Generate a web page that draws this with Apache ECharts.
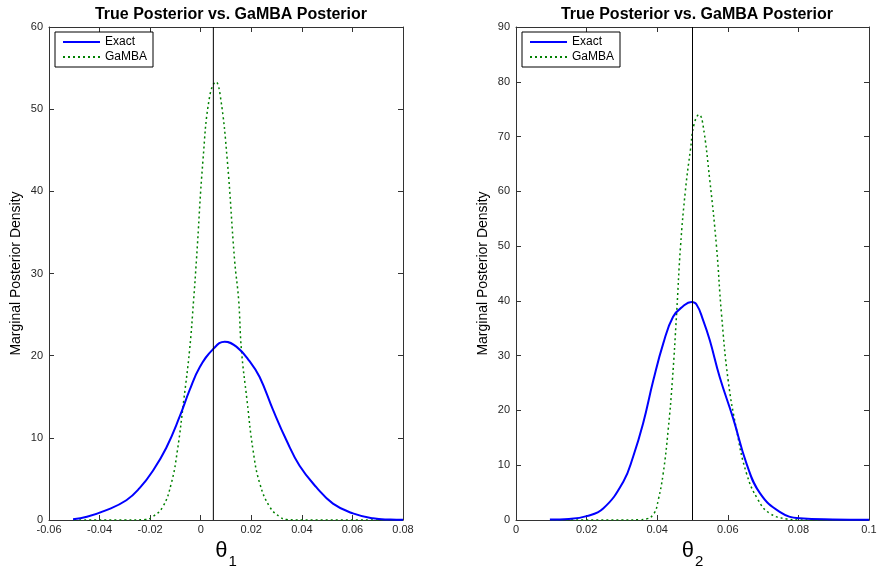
<!DOCTYPE html>
<html><head><meta charset="utf-8">
<script src="https://cdn.jsdelivr.net/npm/echarts@6/dist/echarts.min.js"></script>
<style>html,body{margin:0;padding:0;background:#fff}#c{width:877px;height:569px}</style>
</head><body><div id="c"></div><script>
// ---- data ----
const chartTitle = 'True Posterior vs. GaMBA Posterior';
const yLabel = 'Marginal Posterior Density';
const seriesNames = ['Exact', 'GaMBA'];
const trueTheta1 = 0.005;
const trueTheta2 = 0.05;

const theta1Exact = [[-0.0505,0.1],[-0.045,0.4],[-0.0373,1.2],[-0.0294,2.4],[-0.0241,3.9],[-0.0189,6.0],[-0.0136,8.8],[-0.0083,12.6],[-0.0044,15.8],[-0.0004,18.6],[0.0049,20.8],[0.0095,21.7],[0.0141,21.1],[0.0194,19.3],[0.0233,17.4],[0.0286,13.4],[0.0339,9.7],[0.0391,6.6],[0.0457,4.0],[0.0523,2.0],[0.0602,0.8],[0.0681,0.2],[0.075,0.05],[0.08,0.02]];
const theta1Gamba = [[-0.05,0],[-0.03,0],[-0.022,0.05],[-0.019,0.4],[-0.015,1.6],[-0.0116,4.5],[-0.0092,8.5],[-0.0067,14.6],[-0.0044,20.7],[-0.0028,26.8],[-0.0017,31.6],[0.0009,43.8],[0.0035,51.5],[0.006,53.3],[0.0078,51.5],[0.0105,43.8],[0.0134,31.6],[0.015,26.8],[0.0161,20.7],[0.0183,14.6],[0.0207,8.5],[0.0233,4.5],[0.0273,1.6],[0.0312,0.4],[0.034,0.05],[0.04,0],[0.08,0]];
const theta2Exact = [[0.0096,0.1],[0.015,0.2],[0.020,0.7],[0.0247,2.1],[0.0304,7.0],[0.0332,11.6],[0.036,17.6],[0.0389,25.5],[0.0417,32.2],[0.0445,37.1],[0.0474,39.05],[0.0497,39.8],[0.0511,39.4],[0.053,36.5],[0.0549,32.8],[0.0577,26.1],[0.0615,18.6],[0.0653,10.3],[0.0691,4.9],[0.0747,1.5],[0.0804,0.3],[0.0898,0.1],[0.1,0.05]];
const theta2Gamba = [[0.01,0],[0.03,0],[0.035,0.05],[0.037,0.2],[0.0391,1.2],[0.0403,3.65],[0.0417,8.5],[0.0431,16.4],[0.0443,25.5],[0.0455,37.7],[0.0466,49.9],[0.048,60.2],[0.0494,67.5],[0.0505,72.4],[0.0519,74.0],[0.0529,72.4],[0.0549,62.0],[0.0568,49.9],[0.0582,37.7],[0.0601,25.5],[0.0625,16.4],[0.0653,8.5],[0.0686,3.65],[0.0719,1.2],[0.0766,0.2],[0.08,0.02],[0.085,0],[0.1,0]];

const x1Range = [-0.06, 0.08], x2Range = [0, 0.1], xStep = 0.02;
const y1Range = [0, 60], y2Range = [0, 90], yStep = 10;

// ---- styling ----
const frameColor = '#333';
const textColor = '#262626';
const fontFam = 'Liberation Sans, Arial, sans-serif';
const fmt = v => String(parseFloat(v.toFixed(4)));

function xAxes(grid, range, sub) {
  const base = {
    gridIndex: grid, type: 'value', min: range[0], max: range[1], interval: xStep,
    axisLine: { show: true, onZero: false, lineStyle: { color: frameColor, width: 1 } },
    axisTick: { show: true, inside: true, length: 5, lineStyle: { color: frameColor } },
    splitLine: { show: false }
  };
  return [
    Object.assign({}, base, {
      position: 'bottom',
      axisLabel: { formatter: fmt, fontSize: 11, color: textColor, margin: 4, fontFamily: fontFam },
      name: '{t|θ}{s|' + sub + '}', nameLocation: 'middle', nameGap: 17,
      nameTextStyle: {
        fontFamily: fontFam, color: '#000',
        rich: {
          t: { fontSize: 22, lineHeight: 22, padding: [0, 0, 8, 0], color: '#000', fontFamily: fontFam },
          s: { fontSize: 15, lineHeight: 16, padding: [14, 0, 0, 1], color: '#000', fontFamily: fontFam }
        }
      }
    }),
    Object.assign({}, base, { position: 'top', axisLabel: { show: false } })
  ];
}
function yAxes(grid, range) {
  const base = {
    gridIndex: grid, type: 'value', min: range[0], max: range[1], interval: yStep,
    axisLine: { show: true, onZero: false, lineStyle: { color: frameColor, width: 1 } },
    axisTick: { show: true, inside: true, length: 5, lineStyle: { color: frameColor } },
    splitLine: { show: false }
  };
  return [
    Object.assign({}, base, {
      position: 'left',
      axisLabel: { fontSize: 11, color: textColor, margin: 6, fontFamily: fontFam },
      name: yLabel, nameLocation: 'middle', nameGap: 26,
      nameTextStyle: { fontSize: 14, color: '#000', fontFamily: fontFam }
    }),
    Object.assign({}, base, { position: 'right', axisLabel: { show: false } })
  ];
}
function exactSeries(xi, yi, data) {
  return {
    name: seriesNames[0], type: 'line', xAxisIndex: xi, yAxisIndex: yi, data: data,
    symbol: 'none', smooth: 0.45, z: 3,
    lineStyle: { color: '#0000ff', width: 2 }, itemStyle: { color: '#0000ff' },
    emphasis: { disabled: true }
  };
}
function gambaSeries(xi, yi, data) {
  return {
    name: seriesNames[1], type: 'line', xAxisIndex: xi, yAxisIndex: yi, data: data,
    symbol: 'none', smooth: 0.45, z: 2,
    lineStyle: { color: '#008000', width: 1.5, type: [2, 3] }, itemStyle: { color: '#008000' },
    emphasis: { disabled: true }
  };
}
function truthSeries(xi, yi, truth, yr) {
  return {
    name: 'truth', type: 'line', xAxisIndex: xi, yAxisIndex: yi,
    data: [[truth, yr[0]], [truth, yr[1]]],
    symbol: 'none', z: 4, silent: true,
    lineStyle: { color: '#000', width: 1 }, emphasis: { disabled: true }
  };
}
function legendAt(left) {
  return {
    data: seriesNames, orient: 'vertical', left: left, top: 32,
    padding: [4, 6, 4, 7], itemGap: 3, itemWidth: 37, itemHeight: 14,
    borderColor: '#000', borderWidth: 1, backgroundColor: '#fff', borderRadius: 0,
    selectedMode: false,
    itemStyle: { opacity: 0 },
    textStyle: { fontSize: 12, color: '#000', fontFamily: fontFam }
  };
}
function titleAt(center) {
  return {
    text: chartTitle, left: center, top: 2, textAlign: 'center',
    textStyle: { fontSize: 16, fontWeight: 'bold', color: '#000', fontFamily: fontFam }
  };
}

const chart = echarts.init(document.getElementById('c'), null, { renderer: 'canvas' });
chart.setOption({
  animation: false,
  backgroundColor: '#fff',
  title: [titleAt(226), titleAt(692)],
  legend: [legendAt(55), legendAt(522)],
  grid: [
    { left: 49, right: 474, top: 27, bottom: 49, outerBoundsMode: 'none' },
    { left: 516, right: 8, top: 27, bottom: 49, outerBoundsMode: 'none' }
  ],
  xAxis: xAxes(0, x1Range, '1').concat(xAxes(1, x2Range, '2')),
  yAxis: yAxes(0, y1Range).concat(yAxes(1, y2Range)),
  series: [
    exactSeries(0, 0, theta1Exact),
    gambaSeries(0, 0, theta1Gamba),
    truthSeries(0, 0, trueTheta1, y1Range),
    exactSeries(2, 2, theta2Exact),
    gambaSeries(2, 2, theta2Gamba),
    truthSeries(2, 2, trueTheta2, y2Range)
  ]
});
</script></body></html>
